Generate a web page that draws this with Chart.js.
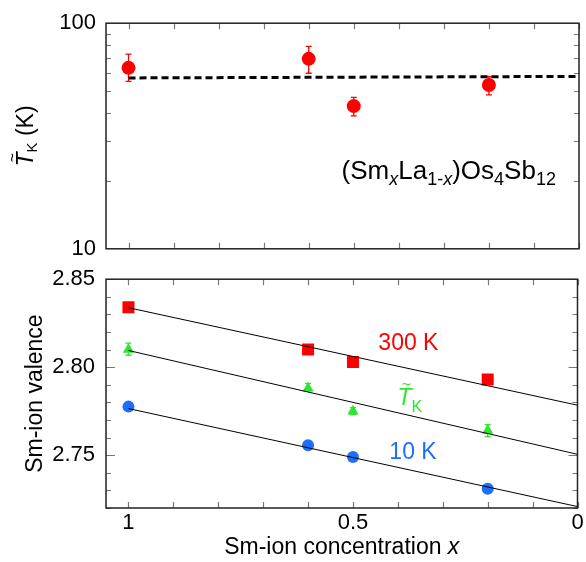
<!DOCTYPE html>
<html><head><meta charset="utf-8">
<script src="https://cdn.jsdelivr.net/npm/chart.js@4/dist/chart.umd.min.js"></script>
<style>
html,body{margin:0;padding:0;background:#fff;}
#wrap{position:relative;width:586px;height:562px;overflow:hidden;}
canvas{position:absolute;left:0;}
#c1{top:0;}
#c2{top:255px;}
</style></head><body>
<div id="wrap">
<canvas id="c1" width="586" height="272"></canvas>
<canvas id="c2" width="586" height="307"></canvas>
</div>
<script>
const FONT = '"Liberation Sans", Arial, Helvetica, sans-serif';
Chart.defaults.font.family = FONT;

// ---------- data ----------
const smX = [1, 0.6, 0.5, 0.2];
const tkValues = [63.4, 69.5, 42.9, 53.2];
const tkErrLow = [55.2, 60.0, 38.8, 48.1];
const tkErrHigh = [73.0, 78.9, 46.9, 57.9];
const tkMeanX = [1, 0];
const tkMeanY = [57.2, 58.1];

const val300 = [2.834, 2.810, 2.803, 2.793];
const valTK = [2.810, 2.788, 2.775, 2.764];
const valTKLow = [2.8068, 2.7865, 2.773, 2.7605];
const valTKHigh = [2.8137, 2.7908, 2.777, 2.7674];
const val10 = [2.7776, 2.7557, 2.749, 2.731];
const fitX = [1, 0];
const fit300 = [2.8338, 2.7784];
const fitTK = [2.8095, 2.7505];
const fit10 = [2.7765, 2.7208];

const xTicks = [0, 0.1, 0.2, 0.3, 0.4, 0.5, 0.6, 0.7, 0.8, 0.9, 1];
const xTickLabels = [1, 0.5, 0];
const tkTicksMinor = [20, 30, 40, 50, 60, 70, 80, 90];
const tkTickLabels = [10, 100];
const valTicksMinor = [2.72, 2.73, 2.74, 2.76, 2.77, 2.78, 2.79, 2.81, 2.82, 2.83, 2.84];
const valTickLabels = [2.75, 2.80, 2.85];

const RED = '#ff0000', GREEN = '#2ee62e', BLUE = '#1e6eff';

function pts(xs, ys) { return xs.map((x, i) => ({x: x, y: ys[i]})); }

function fontOf(p) { return (p.italic ? 'italic ' : '') + p.size + 'px ' + FONT; }
function drawRich(ctx, parts, x, y, align) {
  let w = 0;
  parts.forEach(p => { ctx.font = fontOf(p); p.w = ctx.measureText(p.t).width; w += p.w; });
  let cx = align === 'center' ? x - w / 2 : x;
  ctx.textAlign = 'left';
  ctx.textBaseline = 'alphabetic';
  parts.forEach(p => {
    ctx.font = fontOf(p);
    ctx.fillText(p.t, cx, y + (p.dy || 0));
    if (p.tilde) {
      ctx.save();
      ctx.font = '16px ' + FONT;
      ctx.textAlign = 'center';
      ctx.fillText('~', cx + p.w / 2 + 2, y + (p.dy || 0) - 15);
      ctx.restore();
    }
    cx += p.w;
  });
}

function framePlugin(yMinor, yMajor) {
  return {
    id: 'frame',
    afterDraw(chart) {
      const ctx = chart.ctx, a = chart.chartArea, x = chart.scales.x, y = chart.scales.y;
      ctx.save();
      ctx.strokeStyle = '#777';
      ctx.lineWidth = 1.2;
      ctx.beginPath();
      xTicks.forEach(v => {
        const px = Math.round(x.getPixelForValue(v)) + 0.5;
        ctx.moveTo(px, a.bottom); ctx.lineTo(px, a.bottom - 6);
        ctx.moveTo(px, a.top); ctx.lineTo(px, a.top + 6);
      });
      yMinor.forEach(v => {
        const py = Math.round(y.getPixelForValue(v)) + 0.5;
        ctx.moveTo(a.left, py); ctx.lineTo(a.left + 5, py);
        ctx.moveTo(a.right, py); ctx.lineTo(a.right - 5, py);
      });
      yMajor.forEach(v => {
        const py = Math.round(y.getPixelForValue(v)) + 0.5;
        ctx.moveTo(a.left, py); ctx.lineTo(a.left + 9, py);
        ctx.moveTo(a.right, py); ctx.lineTo(a.right - 9, py);
      });
      ctx.stroke();
      ctx.strokeStyle = '#222';
      ctx.lineWidth = 1.5;
      ctx.strokeRect(a.left, a.top, a.right - a.left, a.bottom - a.top);
      ctx.restore();
    }
  };
}

function errPlugin(xs, lows, highs, color) {
  return {
    id: 'err' + color,
    beforeDatasetsDraw(chart) {
      const ctx = chart.ctx, x = chart.scales.x, y = chart.scales.y;
      ctx.save();
      ctx.strokeStyle = color;
      ctx.lineWidth = 1.3;
      ctx.beginPath();
      xs.forEach((xv, i) => {
        const px = x.getPixelForValue(xv);
        const y1 = y.getPixelForValue(lows[i]), y2 = y.getPixelForValue(highs[i]);
        ctx.moveTo(px, y1); ctx.lineTo(px, y2);
        ctx.moveTo(px - 3, y1); ctx.lineTo(px + 3, y1);
        ctx.moveTo(px - 3, y2); ctx.lineTo(px + 3, y2);
      });
      ctx.stroke();
      ctx.restore();
    }
  };
}

const commonX = {
  type: 'linear', min: 0, max: 1.05, reverse: true,
  grid: {display: false}, border: {display: false}
};

// ---------- top chart ----------
new Chart(document.getElementById('c1'), {
  type: 'scatter',
  data: {
    datasets: [
      {data: pts(smX, tkValues), pointStyle: 'circle', pointRadius: 7, pointHoverRadius: 7,
       backgroundColor: RED, borderWidth: 0},
      {data: pts(tkMeanX, tkMeanY), showLine: true, borderColor: '#000', borderWidth: 3,
       borderDash: [7, 4], pointRadius: 0, fill: false}
    ]
  },
  options: {
    responsive: false, animation: false,
    layout: {padding: {top: 16, right: 7, bottom: 20, left: 0}},
    plugins: {legend: {display: false}, tooltip: {enabled: false}},
    scales: {
      x: Object.assign({}, commonX, {display: false}),
      y: {
        type: 'logarithmic', min: 10, max: 100,
        grid: {display: false, drawTicks: false}, border: {display: false},
        afterBuildTicks: s => { s.ticks = tkTickLabels.map(v => ({value: v})); },
        afterFit: s => { s.width = 106; },
        ticks: {callback: v => String(v), font: {size: 22}, color: '#000', padding: 10, autoSkip: false}
      }
    }
  },
  plugins: [
    errPlugin(smX, tkErrLow, tkErrHigh, RED),
    framePlugin(tkTicksMinor, []),
    {
      id: 'texts1',
      afterDraw(chart) {
        const ctx = chart.ctx, x = chart.scales.x, y = chart.scales.y;
        ctx.save();
        ctx.fillStyle = '#000';
        drawRich(ctx, [
          {t: '(Sm', size: 26}, {t: 'x', size: 18, italic: true, dy: 6},
          {t: 'La', size: 26}, {t: '1-', size: 18, dy: 6}, {t: 'x', size: 18, italic: true, dy: 6},
          {t: ')Os', size: 26}, {t: '4', size: 18, dy: 6},
          {t: 'Sb', size: 26}, {t: '12', size: 18, dy: 6}
        ], x.getPixelForValue(0.527), y.getPixelForValue(20.4), 'left');
        ctx.translate(33, (chart.chartArea.top + chart.chartArea.bottom) / 2);
        ctx.rotate(-Math.PI / 2);
        drawRich(ctx, [
          {t: 'T', size: 23, italic: true, tilde: true},
          {t: 'K', size: 15, dy: 4},
          {t: ' (K)', size: 23}
        ], 0, 0, 'center');
        ctx.restore();
      }
    }
  ]
});

// ---------- bottom chart ----------
new Chart(document.getElementById('c2'), {
  type: 'scatter',
  data: {
    datasets: [
      {data: pts(fitX, fit300), showLine: true, borderColor: '#000', borderWidth: 1, pointRadius: 0},
      {data: pts(fitX, fitTK), showLine: true, borderColor: '#000', borderWidth: 1, pointRadius: 0},
      {data: pts(fitX, fit10), showLine: true, borderColor: '#000', borderWidth: 1, pointRadius: 0},
      {data: pts(smX, val300), pointStyle: 'rect', pointRadius: 8.5, pointHoverRadius: 8.5,
       backgroundColor: RED, borderWidth: 0},
      {data: pts(smX, valTK), pointStyle: 'triangle', pointRadius: 6.5, pointHoverRadius: 6.5,
       backgroundColor: GREEN, borderWidth: 0},
      {data: pts(smX, val10), pointStyle: 'circle', pointRadius: 6, pointHoverRadius: 6,
       backgroundColor: BLUE, borderWidth: 0}
    ]
  },
  options: {
    responsive: false, animation: false,
    layout: {padding: {top: 17, right: 7, bottom: 0, left: 0}},
    plugins: {legend: {display: false}, tooltip: {enabled: false}},
    scales: {
      x: Object.assign({}, commonX, {
        grid: {display: false, drawTicks: false},
        afterBuildTicks: s => { s.ticks = xTickLabels.map(v => ({value: v})); },
        afterFit: s => { s.height = 54; },
        ticks: {callback: v => String(v), font: {size: 22}, color: '#000', padding: 2,
                autoSkip: false, maxRotation: 0}
      }),
      y: {
        type: 'linear', min: 2.72, max: 2.85,
        grid: {display: false, drawTicks: false}, border: {display: false},
        afterBuildTicks: s => { s.ticks = valTickLabels.map(v => ({value: v})); },
        afterFit: s => { s.width = 106; },
        ticks: {callback: v => v.toFixed(2), font: {size: 22}, color: '#000', padding: 11, autoSkip: false}
      }
    }
  },
  plugins: [
    errPlugin(smX, valTKLow, valTKHigh, GREEN),
    framePlugin(valTicksMinor, valTickLabels),
    {
      id: 'texts2',
      afterDraw(chart) {
        const ctx = chart.ctx, x = chart.scales.x, y = chart.scales.y, a = chart.chartArea;
        ctx.save();
        ctx.fillStyle = RED;
        drawRich(ctx, [{t: '300 K', size: 23}], x.getPixelForValue(0.4435), y.getPixelForValue(2.810), 'left');
        ctx.fillStyle = GREEN;
        drawRich(ctx, [{t: 'T', size: 23, italic: true, tilde: true}, {t: 'K', size: 16, dy: 7}],
                 x.getPixelForValue(0.401), y.getPixelForValue(2.7787), 'left');
        ctx.fillStyle = BLUE;
        drawRich(ctx, [{t: '10 K', size: 23}], x.getPixelForValue(0.419), y.getPixelForValue(2.748), 'left');
        ctx.fillStyle = '#000';
        drawRich(ctx, [{t: 'Sm-ion concentration ', size: 23}, {t: 'x', size: 23, italic: true}],
                 (a.left + a.right) / 2 + 0, a.bottom + 46, 'center');
        ctx.translate(42, (a.top + a.bottom) / 2);
        ctx.rotate(-Math.PI / 2);
        drawRich(ctx, [{t: 'Sm-ion valence', size: 23}], 0, 0, 'center');
        ctx.restore();
      }
    }
  ]
});
</script>
</body></html>
